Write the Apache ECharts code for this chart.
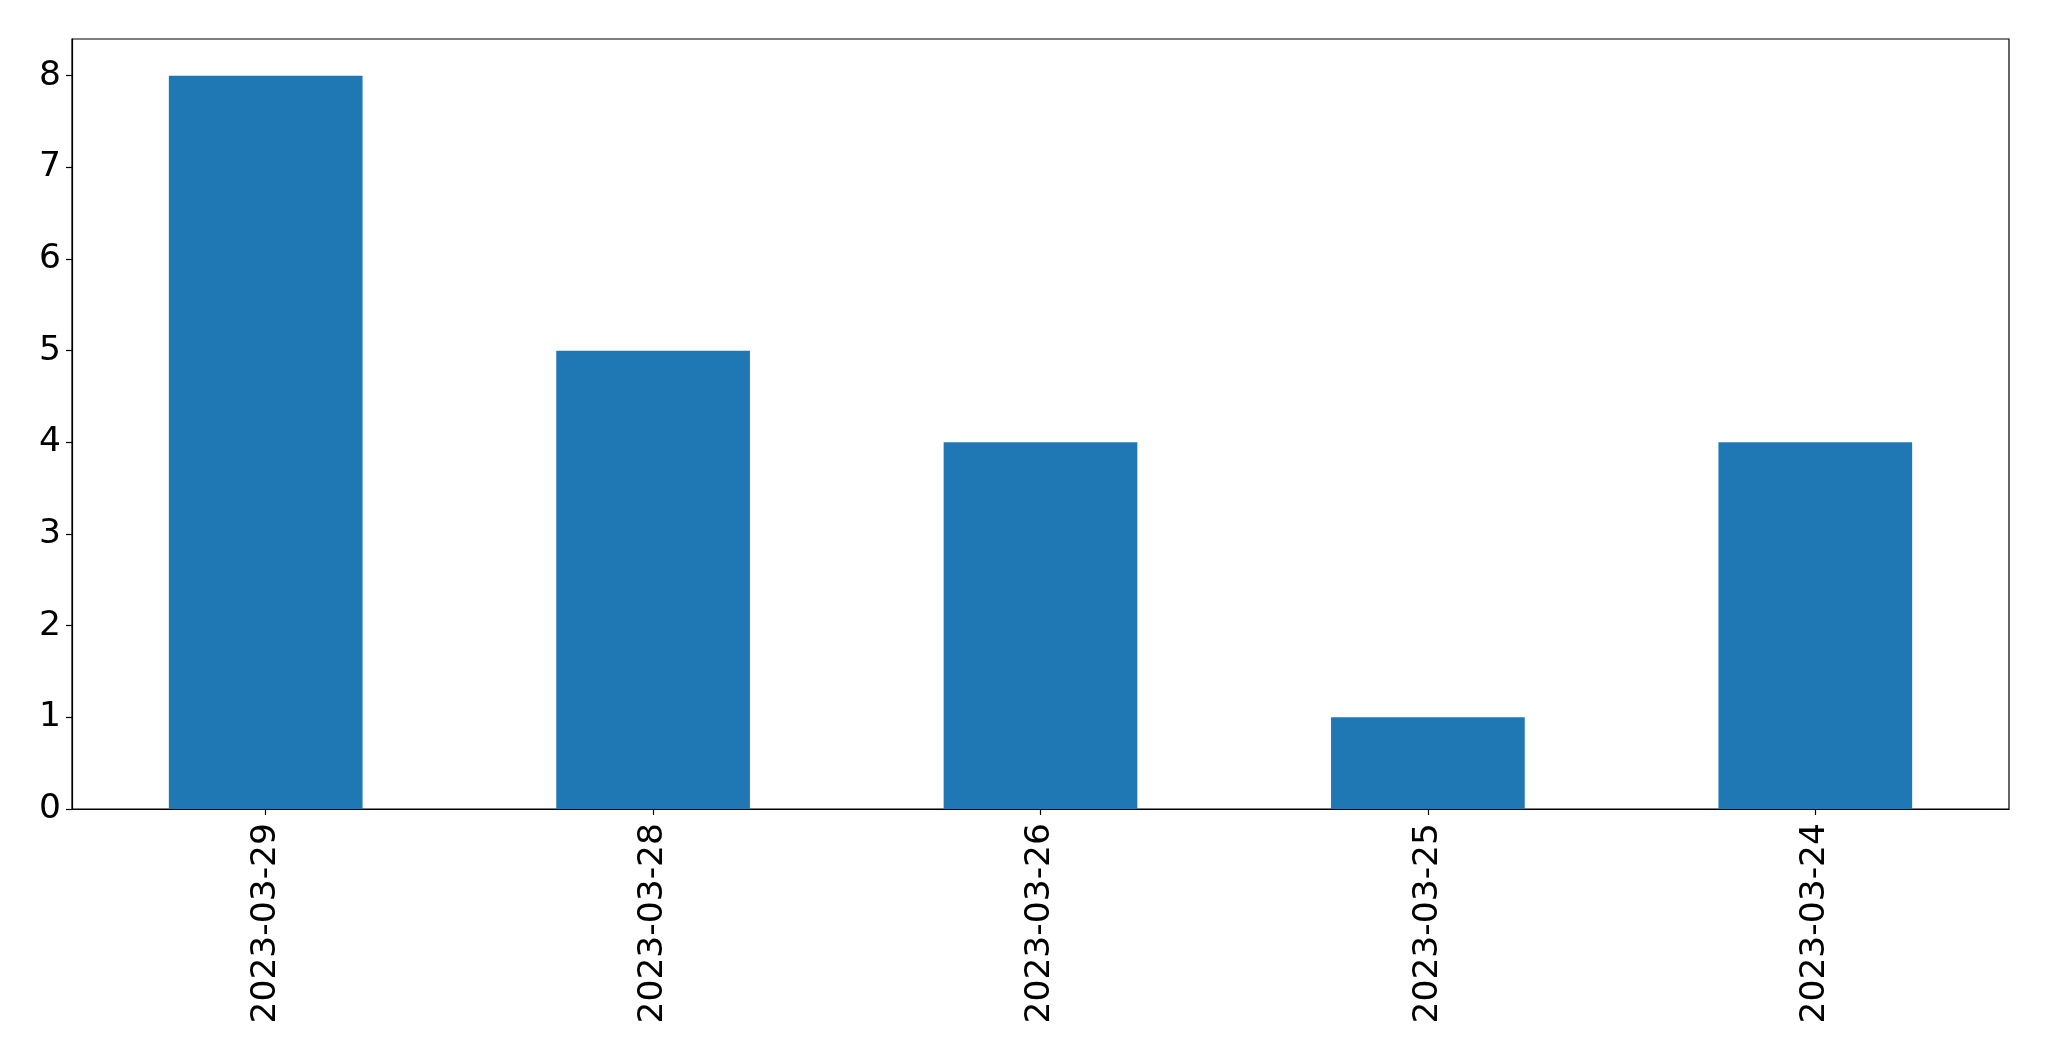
<!DOCTYPE html>
<html>
<head>
<meta charset="utf-8">
<script src="https://cdn.jsdelivr.net/npm/echarts@6/dist/echarts.min.js"></script>
<style>
html,body{margin:0;padding:0;background:#fff;}
#chart{width:2049px;height:1061px;}
</style>
</head>
<body>
<div id="chart"></div>
<script>
const categories = ['2023-03-29', '2023-03-28', '2023-03-26', '2023-03-25', '2023-03-24'];
const values = [8, 5, 4, 1, 4];
const yTicks = [0, 1, 2, 3, 4, 5, 6, 7, 8];

const chart = echarts.init(document.getElementById('chart'), null, {renderer: 'canvas'});
const font = 'DejaVu Sans';
chart.setOption({
  backgroundColor: '#ffffff',
  animation: false,
  grid: {
    left: 72, top: 39, right: 40, bottom: 252,
    show: true, borderColor: '#000', borderWidth: 1.2, backgroundColor: 'transparent'
  },
  xAxis: {
    type: 'category',
    data: categories,
    boundaryGap: true,
    axisLine: {show: true, lineStyle: {color: '#000', width: 1.2}},
    axisTick: {show: true, alignWithLabel: true, length: 6, lineStyle: {color: '#000', width: 1.2}},
    axisLabel: {rotate: 90, margin: 14, fontSize: 34.5, fontFamily: font, color: '#000'},
    splitLine: {show: false}
  },
  yAxis: {
    type: 'value',
    min: 0, max: 8.4, interval: 1,
    axisLine: {show: true, lineStyle: {color: '#000', width: 1.2}},
    axisTick: {show: true, length: 6, lineStyle: {color: '#000', width: 1.2}, customValues: yTicks},
    axisLabel: {margin: 11, fontSize: 34.5, fontFamily: font, color: '#000', customValues: yTicks, padding: [8, 0, 0, 0]},
    splitLine: {show: false}
  },
  series: [{
    type: 'bar',
    data: values,
    barWidth: '50%',
    itemStyle: {color: '#1f77b4'}
  }]
});
</script>
</body>
</html>
